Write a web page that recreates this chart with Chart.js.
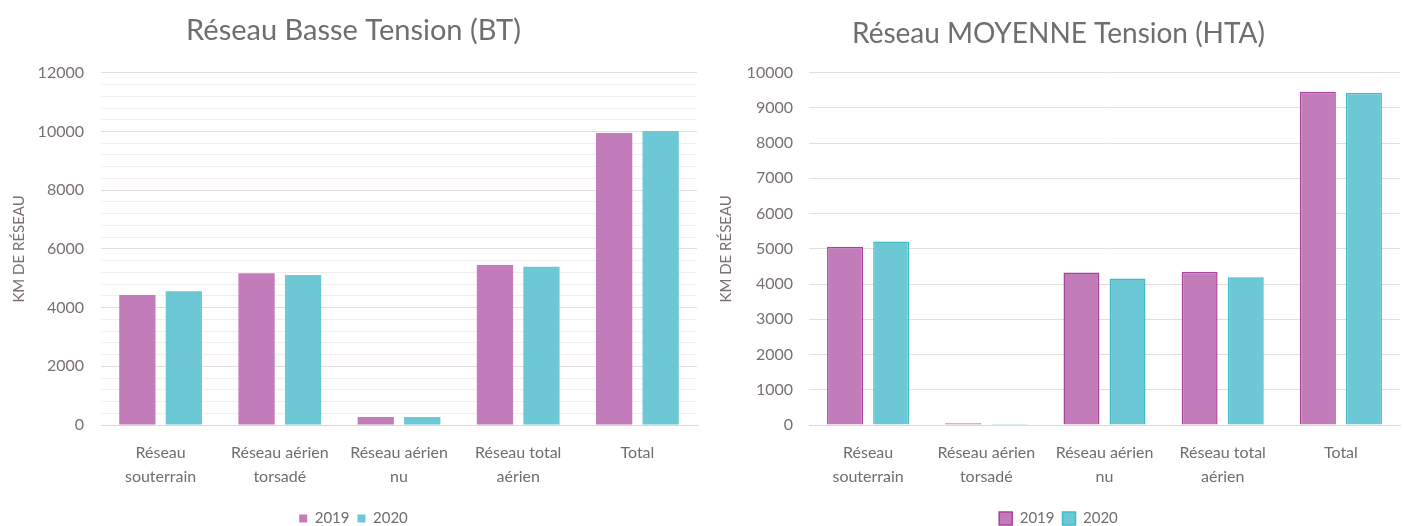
<!DOCTYPE html>
<html>
<head>
<meta charset="utf-8">
<script src="https://cdn.jsdelivr.net/npm/chart.js@4/dist/chart.umd.min.js"></script>
<style>
  body { margin: 0; background: #fff; }
  .box { position: absolute; top: 0; }
</style>
</head>
<body>
<div class="box" style="left:0"><canvas id="btChart" width="700" height="526"></canvas></div>
<div class="box" style="left:700px"><canvas id="htaChart" width="703" height="526"></canvas></div>
<script>
var categories = [
    ['Réseau', 'souterrain'],
    ['Réseau aérien', 'torsadé'],
    ['Réseau aérien', 'nu'],
    ['Réseau total', 'aérien'],
    ['Total']
];
var years = ['2019', '2020'];
var bt2019 = [4430, 5170, 270, 5450, 9950];
var bt2020 = [4560, 5110, 270, 5390, 10020];
var hta2019 = [5060, 50, 4330, 4350, 9460];
var hta2020 = [5210, 30, 4160, 4190, 9430];
var btTicks = [0, 2000, 4000, 6000, 8000, 10000, 12000];
var htaTicks = [0, 1000, 2000, 3000, 4000, 5000, 6000, 7000, 8000, 9000, 10000];

var FONT = 'Lato, "Open Sans", sans-serif';
var pink = '#c27cba', teal = '#6cc8d5';

function BarChart(id, opts) {
    var ctx = document.getElementById(id);
    return new Chart(ctx, {
        type: 'bar',
        data: {
            labels: categories,
            datasets: [{
                label: years[0],
                data: opts.a,
                backgroundColor: pink,
                borderColor: opts.border ? '#a8429c' : pink,
                borderWidth: opts.border ? 1.5 : 0
            }, {
                label: years[1],
                data: opts.b,
                backgroundColor: teal,
                borderColor: opts.border ? '#3fb9cb' : teal,
                borderWidth: opts.border ? 1.5 : 0
            }]
        },
        options: {
            responsive: false,
            animation: false,
            categoryPercentage: 0.78,
            barPercentage: 0.78,
            layout: { padding: opts.padding },
            plugins: {
                title: {
                    display: true,
                    text: opts.title,
                    color: '#6e6e6e',
                    font: { family: FONT, size: opts.titleSize, weight: 'normal' },
                    padding: { top: 0, bottom: opts.titleGap }
                },
                legend: {
                    position: 'bottom',
                    labels: {
                        color: '#6e6e6e',
                        font: { family: FONT, size: 15 },
                        boxWidth: opts.border ? 13 : 8,
                        boxHeight: opts.border ? 13 : 8,
                        padding: 8
                    }
                },
                tooltip: { enabled: false }
            },
            scales: {
                x: {
                    grid: { display: false },
                    border: { color: '#ddd6d6' },
                    afterFit: function (axis) { axis.height = 78; },
                    ticks: {
                        color: '#6e6e6e',
                        maxRotation: 0,
                        autoSkip: false,
                        padding: 7,
                        font: { family: FONT, size: 16, lineHeight: 1.55 }
                    }
                },
                y: {
                    min: 0,
                    max: opts.max,
                    afterBuildTicks: function (axis) {
                        axis.ticks = opts.minor.map(function (v) { return { value: v }; });
                    },
                    afterFit: function (axis) { axis.width = opts.yWidth; },
                    grid: {
                        color: function (c) {
                            return opts.ticks.indexOf(c.tick.value) >= 0 ? '#e6dcdc' : '#f3eeee';
                        },
                        drawTicks: false
                    },
                    border: { display: false },
                    title: {
                        display: true,
                        text: 'KM DE RÉSEAU',
                        color: '#7a7070',
                        font: { family: FONT, size: 15 },
                        padding: 0
                    },
                    ticks: {
                        color: '#7a7070',
                        padding: opts.tickPad,
                        autoSkip: false,
                        font: { family: FONT, size: 16 },
                        callback: function (v) {
                            return opts.ticks.indexOf(v) >= 0 ? v : '';
                        }
                    }
                }
            }
        }
    });
}

var btMinor = [];
for (var i = 0; i <= 12000; i += 400) btMinor.push(i);

BarChart('btChart', {
    a: bt2019, b: bt2020, title: 'Réseau Basse Tension (BT)', titleSize: 29,
    max: 12000, ticks: btTicks, minor: btMinor, border: false, yWidth: 91, tickPad: 17,
    padding: { left: 10, right: 3, top: 13, bottom: -10 }, titleGap: 25
});
BarChart('htaChart', {
    a: hta2019, b: hta2020, title: 'Réseau MOYENNE Tension (HTA)', titleSize: 28,
    max: 10000, ticks: htaTicks, minor: htaTicks, border: true, yWidth: 92, tickPad: 16,
    padding: { left: 17, right: 3, top: 17, bottom: -10 }, titleGap: 22
});
</script>
</body>
</html>
